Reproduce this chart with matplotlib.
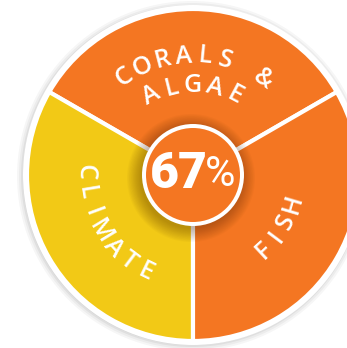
import matplotlib
matplotlib.use("Agg")
import matplotlib.pyplot as plt
from matplotlib.patches import Circle
import numpy as np

# ---- data ----
categories = ["CORALS & ALGAE", "CLIMATE", "FISH"]
values = [1, 1, 1]
colors = ["#F47622", "#F2C916", "#F47622"]
center_label = "67"
center_pct = "%"

W, H = 347, 348
fig = plt.figure(figsize=(W / 100, H / 100), dpi=100)
ax = fig.add_axes([0, 0, 1, 1])

R = 166
# outer soft shadow
for i, a in enumerate([0.035, 0.04, 0.05, 0.06]):
    ax.add_patch(Circle((-1, -1), R + 9 - 2 * i, color="black", alpha=a, lw=0, zorder=0))
ax.add_patch(Circle((0, 0), R + 4, color="white", lw=0, zorder=1))

wedges, _ = ax.pie(values, colors=colors, radius=R, center=(0, 0), startangle=30,
                   counterclock=True,
                   wedgeprops=dict(edgecolor="white", linewidth=3.0))
for w in wedges:
    w.set_zorder(2)
ax.set_xlim(-193, 154)
ax.set_ylim(-173, 175)
ax.set_aspect("equal")
ax.axis("off")

# central shadow
for i in range(12):
    r = 64 - i * 1.2
    ax.add_patch(Circle((-2, -3), r, color="#4a2000", alpha=0.03, lw=0, zorder=3))

ax.add_patch(Circle((0, 0), 51, color="white", lw=0, zorder=4))
ax.add_patch(Circle((0, 0), 47, color="#F47622", lw=0, zorder=5))

ax.text(-14, 0, center_label, color="white", fontsize=36, fontweight="heavy",
        family="Roboto", ha="center", va="center", zorder=6)
ax.text(27.5, 0, center_pct, color="white", fontsize=30, fontweight="normal",
        family="Roboto", ha="center", va="center", zorder=6)

fontkw = dict(color="white", fontsize=18, family="Open Sans", fontweight="semibold",
              ha="center", va="center", rotation_mode="anchor", zorder=6)


def arc_text(s, r, a0, a1, outward=True):
    n = len(s)
    angs = np.linspace(a0, a1, n)
    for ch, a in zip(s, angs):
        if ch == " ":
            continue
        t = np.deg2rad(a)
        rot = a - 90 if outward else a + 90
        ax.text(r * np.cos(t), r * np.sin(t), ch, rotation=rot, **fontkw)


top1, top2 = "CORALS &", "ALGAE"
arc_text(top1, 119, 125, 54, outward=True)
arc_text(top2, 90, 118, 62, outward=True)
arc_text(categories[1], 108, 178.5, 244, outward=False)
arc_text(categories[2], 104, -47, -16.5, outward=False)

fig.savefig("out.png", dpi=100, facecolor="white")
